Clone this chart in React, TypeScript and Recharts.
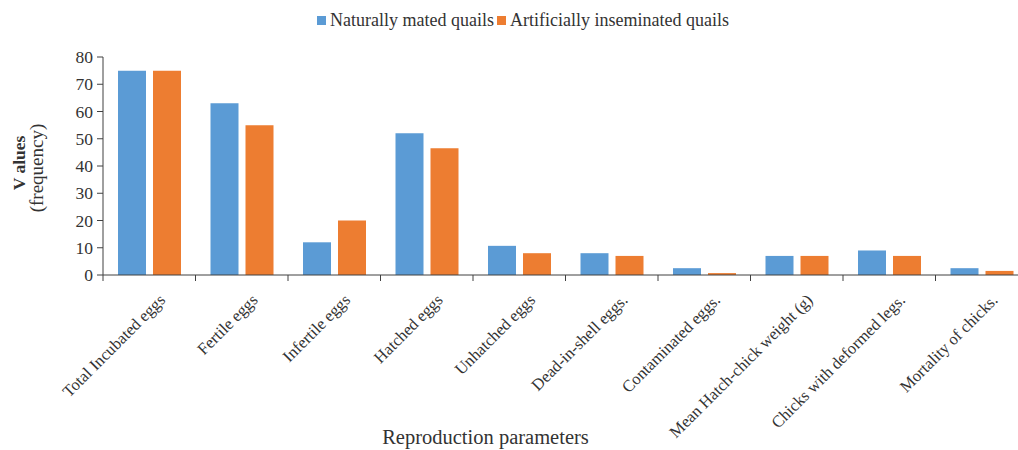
import React from 'react';
import { BarChart, Bar, XAxis, YAxis, Legend, Label } from 'recharts';

const categories = [
  'Total Incubated eggs',
  'Fertile eggs',
  'Infertile eggs',
  'Hatched eggs',
  'Unhatched eggs',
  'Dead-in-shell eggs.',
  'Contaminated eggs.',
  'Mean Hatch-chick weight (g)',
  'Chicks with deformed legs.',
  'Mortality of chicks.',
];
const naturallyMated = [75, 63, 12, 52, 10.7, 8, 2.5, 7, 9, 2.5];
const artificiallyInseminated = [75, 55, 20, 46.5, 8, 7, 0.7, 7, 7, 1.5];
const yTicks = [0, 10, 20, 30, 40, 50, 60, 70, 80];
const seriesNames = ['Naturally mated quails', 'Artificially inseminated quails'];
const seriesColors = ['#5B9BD5', '#ED7D31'];

const data = categories.map((c, i) => ({
  name: c,
  natural: naturallyMated[i],
  artificial: artificiallyInseminated[i],
}));

const FONT = '"Liberation Serif", "Times New Roman", serif';
const CHART_W = 1030;
const CHART_H = 450;
const Y_AXIS_W = 103;
const MARGIN = { top: 57, right: 2, left: 0, bottom: 0 };
const band = (CHART_W - MARGIN.left - MARGIN.right - Y_AXIS_W) / categories.length;

const XTick = (props: any) => {
  const { x, y, payload } = props;
  return (
    <g>
      <line x1={x - band / 2} x2={x - band / 2} y1={y - 6} y2={y} stroke="#404040" strokeWidth={1} />
      <text
        transform={`translate(${x + 17}, ${y + 20}) rotate(-45)`}
        textAnchor="end"
        fontFamily={FONT}
        fontSize={16.5}
        fill="#333"
      >
        {payload.value}
      </text>
    </g>
  );
};

const YLabel = () => (
  <g>
    <text
      transform="translate(25, 163) rotate(-90)"
      textAnchor="middle"
      fontFamily={FONT}
      fontSize={17.5}
      fontWeight="bold"
      fill="#333"
    >
      V alues
    </text>
    <text
      transform="translate(43, 168) rotate(-90)"
      textAnchor="middle"
      fontFamily={FONT}
      fontSize={19}
      fill="#333"
    >
      (frequency)
    </text>
  </g>
);

const LegendContent = () => (
  <div
    style={{
      display: 'flex',
      justifyContent: 'center',
      alignItems: 'center',
      fontFamily: FONT,
      fontSize: 18,
      color: '#333',
    }}
  >
    {seriesNames.map((n, i) => (
      <span key={n} style={{ display: 'inline-flex', alignItems: 'center', marginRight: i === 0 ? 3 : 0 }}>
        <span
          style={{
            display: 'inline-block',
            width: 9,
            height: 9,
            background: seriesColors[i],
            marginRight: 4,
          }}
        />
        {n}
      </span>
    ))}
  </div>
);

export default function App() {
  return (
    <div
      style={{
        position: 'absolute',
        left: 0,
        top: 0,
        width: 1018,
        height: 450,
        overflow: 'hidden',
        background: '#fff',
      }}
    >
      <BarChart
        width={CHART_W}
        height={CHART_H}
        data={data}
        margin={MARGIN}
        barCategoryGap={15}
        barGap={7}
      >
        <Legend
          verticalAlign="middle"
          align="center"
          wrapperStyle={{ top: 10, left: 0, width: 1046 }}
          content={<LegendContent />}
        />
        <XAxis
          dataKey="name"
          interval={0}
          height={CHART_H - 275 - MARGIN.bottom}
          tick={<XTick />}
          tickLine={false}
          tickSize={6}
          tickMargin={0}
          axisLine={{ stroke: '#404040' }}
        >
          <Label
            value="Reproduction parameters"
            position="insideBottom"
            offset={6}
            dx={-80}
            style={{ fontFamily: FONT, fontSize: 20.5, fill: '#333' }}
          />
        </XAxis>
        <YAxis
          width={Y_AXIS_W}
          domain={[0, 80]}
          ticks={yTicks}
          interval={0}
          tickSize={6}
          tickMargin={4}
          tick={{ fontFamily: FONT, fontSize: 17.5, fill: '#333' }}
          axisLine={{ stroke: '#404040' }}
          tickLine={{ stroke: '#404040' }}
          label={{ content: () => <YLabel /> }}
        />
        <Bar dataKey="natural" name={seriesNames[0]} fill={seriesColors[0]} isAnimationActive={false} />
        <Bar dataKey="artificial" name={seriesNames[1]} fill={seriesColors[1]} isAnimationActive={false} />
      </BarChart>
    </div>
  );
}
